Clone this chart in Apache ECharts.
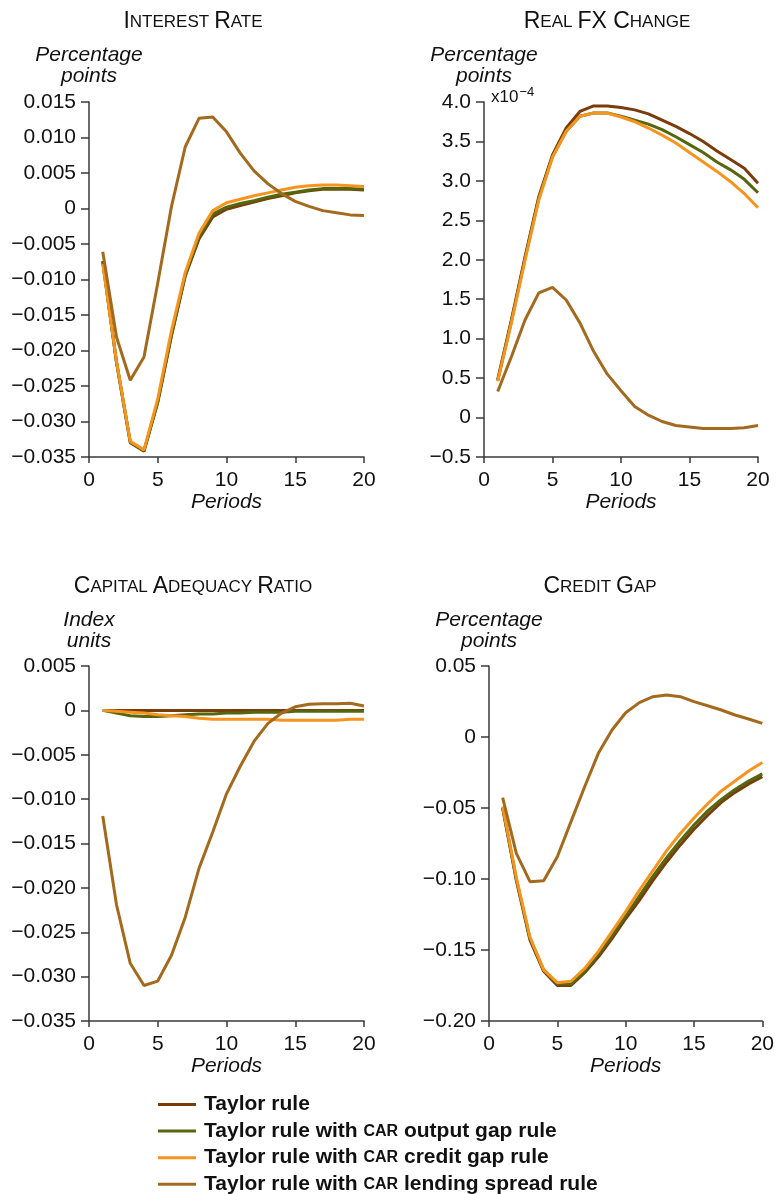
<!DOCTYPE html>
<html>
<head>
<meta charset="utf-8">
<script src="https://cdn.jsdelivr.net/npm/echarts@6/dist/echarts.min.js"></script>
<style>
	html, body { margin: 0; padding: 0; background: #fff; }
	#chartDiv { width: 777px; height: 1194px; }
</style>
</head>
<body>
<div id="chartDiv"></div>
<script>
var periods = [1, 2, 3, 4, 5, 6, 7, 8, 9, 10, 11, 12, 13, 14, 15, 16, 17, 18, 19, 20];

var seriesNames = [
	'Taylor rule',
	'Taylor rule with CAR output gap rule',
	'Taylor rule with CAR credit gap rule',
	'Taylor rule with CAR lending spread rule'
];

// interest rate, percentage points
var rateTaylor = [-0.0074, -0.0217, -0.0330, -0.0342, -0.0273, -0.0179, -0.0095, -0.0043, -0.0012, -0.0001, 0.0004, 0.0009, 0.0014, 0.0018, 0.0022, 0.0025, 0.0027, 0.0027, 0.0027, 0.0026];
var rateOutput = [-0.0075, -0.0216, -0.0329, -0.0341, -0.0272, -0.0178, -0.0094, -0.0040, -0.0008, 0.0002, 0.0007, 0.0011, 0.0016, 0.0020, 0.0023, 0.0026, 0.0028, 0.0028, 0.0028, 0.0027];
var rateCredit = [-0.0078, -0.0215, -0.0328, -0.0340, -0.0268, -0.0172, -0.0090, -0.0035, -0.0003, 0.0008, 0.0013, 0.0018, 0.0022, 0.0026, 0.0030, 0.0032, 0.0033, 0.0033, 0.0032, 0.0031];
var rateSpread = [-0.0061, -0.0181, -0.0242, -0.0209, -0.0105, 0.0003, 0.0087, 0.0127, 0.0129, 0.0108, 0.0078, 0.0053, 0.0035, 0.0021, 0.0010, 0.0003, -0.0003, -0.0006, -0.0009, -0.0010];

// real FX change, x10^-4
var fxTaylor = [0.48, 1.24, 2.04, 2.80, 3.33, 3.67, 3.88, 3.95, 3.95, 3.93, 3.90, 3.85, 3.77, 3.69, 3.60, 3.50, 3.38, 3.27, 3.16, 2.97];
var fxOutput = [0.47, 1.22, 2.02, 2.78, 3.31, 3.63, 3.82, 3.86, 3.86, 3.82, 3.77, 3.72, 3.65, 3.56, 3.46, 3.36, 3.24, 3.14, 3.02, 2.85];
var fxCredit = [0.46, 1.20, 2.00, 2.76, 3.30, 3.63, 3.82, 3.86, 3.86, 3.81, 3.75, 3.67, 3.58, 3.48, 3.36, 3.24, 3.12, 2.99, 2.84, 2.66];
var fxSpread = [0.33, 0.77, 1.24, 1.58, 1.65, 1.49, 1.20, 0.84, 0.55, 0.34, 0.14, 0.03, -0.05, -0.10, -0.12, -0.14, -0.14, -0.14, -0.13, -0.10];

// capital adequacy ratio, index units
var carTaylor = [0, 0, 0, 0, 0, 0, 0, 0, 0, 0, 0, 0, 0, 0, 0, 0, 0, 0, 0, 0];
var carOutput = [0, -0.0003, -0.0006, -0.0007, -0.0007, -0.0006, -0.0005, -0.0004, -0.0004, -0.0003, -0.0003, -0.0002, -0.0002, -0.0002, -0.0001, -0.0001, -0.0001, -0.0001, -0.0001, -0.0001];
var carCredit = [0, -0.0001, -0.0002, -0.0003, -0.0005, -0.0006, -0.0007, -0.0009, -0.0010, -0.0010, -0.0010, -0.0010, -0.0010, -0.0011, -0.0011, -0.0011, -0.0011, -0.0011, -0.0010, -0.0010];
var carSpread = [-0.0119, -0.0219, -0.0285, -0.0310, -0.0305, -0.0276, -0.0233, -0.0178, -0.0137, -0.0094, -0.0063, -0.0035, -0.0015, -0.0003, 0.0004, 0.0007, 0.00075, 0.00075, 0.0008, 0.0005];

// credit gap, percentage points
var gapTaylor = [-0.050, -0.101, -0.143, -0.165, -0.175, -0.175, -0.166, -0.155, -0.142, -0.128, -0.115, -0.101, -0.088, -0.076, -0.065, -0.055, -0.046, -0.039, -0.033, -0.028];
var gapOutput = [-0.050, -0.100, -0.142, -0.164, -0.174, -0.174, -0.165, -0.153, -0.140, -0.126, -0.112, -0.098, -0.085, -0.073, -0.062, -0.052, -0.044, -0.037, -0.031, -0.026];
var gapCredit = [-0.049, -0.099, -0.141, -0.164, -0.173, -0.172, -0.163, -0.151, -0.137, -0.123, -0.108, -0.094, -0.080, -0.068, -0.057, -0.047, -0.038, -0.031, -0.024, -0.018];
var gapSpread = [-0.0427, -0.0820, -0.1019, -0.1012, -0.0843, -0.0596, -0.0350, -0.0115, 0.0049, 0.0171, 0.0242, 0.0284, 0.0296, 0.0284, 0.0249, 0.0220, 0.0190, 0.0155, 0.0127, 0.0096];

var colors = ['#7a3c0a', '#56660c', '#f7941e', '#a36a1e'];
var font = '"Liberation Sans", Arial, Helvetica, sans-serif';
var axisColor = '#3a3a3a';

function pairs(vals) {
	var out = [];
	for (var i = 0; i < periods.length; i++) {
		out.push([periods[i], vals[i]]);
	}
	return out;
}

function fmt(digits) {
	return function (v) {
		if (Math.abs(v) < 1e-9) return '0';
		var s = Math.abs(v).toFixed(digits);
		return v < 0 ? '\u2212' + s : s;
	};
}

function makeX(idx) {
	return {
		type: 'value', gridIndex: idx, min: 0, max: 20, interval: 5,
		name: 'Periods', nameLocation: 'middle', nameGap: 34,
		nameTextStyle: { fontFamily: font, fontStyle: 'italic', fontSize: 21, color: '#111' },
		axisLine: { show: true, onZero: false, lineStyle: { color: axisColor, width: 1.5 } },
		axisTick: { show: true, length: 6, lineStyle: { color: axisColor, width: 1.5 } },
		axisLabel: { margin: 13, fontFamily: font, fontSize: 21, color: '#111' },
		splitLine: { show: false }
	};
}

function makeY(idx, min, max, interval, digits, name, gap) {
	return {
		type: 'value', gridIndex: idx, min: min, max: max, interval: interval,
		name: name, nameLocation: 'end', nameGap: gap,
		nameTextStyle: { fontFamily: font, fontStyle: 'italic', fontSize: 21, lineHeight: 21, color: '#111', align: 'center' },
		axisLine: { show: true, onZero: false, lineStyle: { color: axisColor, width: 1.5 } },
		axisTick: { show: true, length: 8, lineStyle: { color: axisColor, width: 1.5 } },
		axisLabel: { margin: 13, fontFamily: font, fontSize: 21, color: '#111', formatter: fmt(digits) },
		splitLine: { show: false }
	};
}

var panels = [
	[rateTaylor, rateOutput, rateCredit, rateSpread],
	[fxTaylor, fxOutput, fxCredit, fxSpread],
	[carTaylor, carOutput, carCredit, carSpread],
	[gapTaylor, gapOutput, gapCredit, gapSpread]
];

var series = [];
for (var p = 0; p < panels.length; p++) {
	for (var k = 0; k < 4; k++) {
		series.push({
			name: seriesNames[k],
			type: 'line',
			xAxisIndex: p,
			yAxisIndex: p,
			data: pairs(panels[p][k]),
			showSymbol: false,
			symbol: 'none',
			lineStyle: { color: colors[k], width: 3 },
			itemStyle: { color: colors[k] },
			animation: false
		});
	}
}

var titleRich = {
	b: { fontFamily: font, fontSize: 23, fontWeight: 'normal', color: '#111', lineHeight: 26 },
	s: { fontFamily: font, fontSize: 17, fontWeight: 'normal', color: '#111', lineHeight: 26 }
};

function scTitle(text, x, y) {
	return { text: text, left: x, top: y, textAlign: 'center', padding: 0, textStyle: { fontWeight: 'normal', rich: titleRich } };
}

var option = {
	backgroundColor: '#fff',
	animation: false,
	title: [
		scTitle('{b|I}{s|NTEREST} {b|R}{s|ATE}', 193, 9),
		scTitle('{b|R}{s|EAL} {b|FX C}{s|HANGE}', 607, 9),
		scTitle('{b|C}{s|APITAL} {b|A}{s|DEQUACY} {b|R}{s|ATIO}', 193, 574),
		scTitle('{b|C}{s|REDIT} {b|G}{s|AP}', 600, 574),
		{
			text: '{a|x10}{e|\u22124}', left: 491, top: 86, padding: 0,
			textStyle: {
				fontWeight: 'normal',
				rich: {
					a: { fontFamily: font, fontSize: 17, fontWeight: 'normal', color: '#111', lineHeight: 20, verticalAlign: 'bottom' },
					e: { fontFamily: font, fontSize: 13, fontWeight: 'normal', color: '#111', lineHeight: 20, verticalAlign: 'top', padding: [0, 0, 6, 1] }
				}
			}
		}
	],
	grid: [
		{ left: 89, top: 102, width: 275, height: 355 },
		{ left: 484, top: 102, width: 274, height: 355 },
		{ left: 89, top: 666, width: 275, height: 355 },
		{ left: 489, top: 666, width: 275, height: 355 }
	],
	xAxis: [makeX(0), makeX(1), makeX(2), makeX(3)],
	yAxis: [
		makeY(0, -0.035, 0.015, 0.005, 3, 'Percentage\npoints', 15),
		makeY(1, -0.5, 4, 0.5, 1, 'Percentage\npoints', 15),
		makeY(2, -0.035, 0.005, 0.005, 3, 'Index\nunits', 14),
		makeY(3, -0.2, 0.05, 0.05, 2, 'Percentage\npoints', 14)
	],
	legend: {
		orient: 'vertical',
		left: 158,
		top: 1094,
		height: 120,
		padding: 0,
		itemWidth: 38,
		itemHeight: 3,
		itemGap: 5.6,
		icon: 'rect',
		data: seriesNames,
		formatter: function (name) {
			return name.replace('CAR', '{sc|CAR}');
		},
		textStyle: {
			fontFamily: font, fontSize: 21, fontWeight: 'bold', color: '#111', lineHeight: 20, padding: [0, 0, 0, 3],
			rich: {
				sc: { fontFamily: font, fontSize: 16, fontWeight: 'bold', color: '#111', lineHeight: 20 }
			}
		}
	},
	series: series
};

var chart = echarts.init(document.getElementById('chartDiv'));
chart.setOption(option);
</script>
</body>
</html>
